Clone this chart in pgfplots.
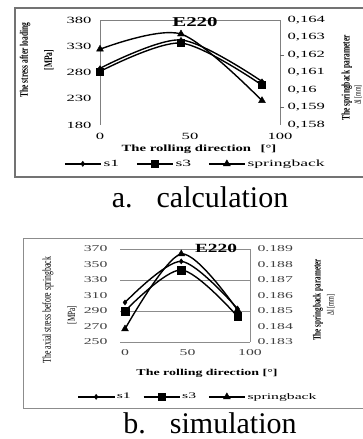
\documentclass[border=0pt]{standalone}
\usepackage{pgfplots}
\pgfplotsset{compat=1.18}
\usepackage{fontspec}
\setmainfont{Liberation Serif}
\newfontfamily\tkfont[FakeStretch=1.75]{Liberation Serif}
\newfontfamily\lgfont[FakeStretch=1.85]{Liberation Serif}
\newfontfamily\vlfont[FakeStretch=0.65]{Liberation Serif}
\newfontfamily\hlfont[FakeStretch=1.55]{Liberation Serif}

\pgfplotsset{
  s1style/.style={black, line width=1.4pt, smooth, mark=diamond*, mark size=2.6pt, mark options={solid, line width=0.4pt}},
  s3style/.style={black, line width=1.4pt, smooth, mark=square*, mark size=3.4pt, mark options={solid, line width=0.4pt}},
  spstyle/.style={black, line width=1.4pt, smooth, mark=triangle*, mark size=4pt, mark options={solid, line width=0.4pt}},
  mylegend/.style={
    legend image code/.code={\draw[mark repeat=2,mark phase=2,##1] plot coordinates {(0pt,0pt) (18pt,0pt) (36pt,0pt)};},
    legend style={draw=none, fill=none, legend columns=3, /tikz/every even column/.append style={column sep=15pt}, font=\lgfont\fontsize{9.5}{9.5}\selectfont, inner sep=0pt, legend cell align=left},
  },
  base/.style={scale only axis, anchor=south west, clip=false,
    /pgf/number format/assume math mode=true,
    tick style={draw=none},
    every tick label/.append style={font=\tkfont\fontsize{9.5}{10}\selectfont}},
}

\begin{document}
\begin{tikzpicture}[x=1pt,y=1pt]
\useasboundingbox (0,0) rectangle (362,439);
\fill[white] (0,0) rectangle (362,439);
% frames
\draw[black!55, line width=1.5pt] (15,431) rectangle (380,262);
\draw[black!45, line width=1pt] (23,200) rectangle (380,30);

% ---------- top chart (calculation) ----------
\begin{axis}[base, at={(100pt,314pt)}, width=180pt, height=105pt,
  xmin=0, xmax=100, ymin=180, ymax=380,
  xtick={0,50,100}, ytick={180,230,280,330,380},
  axis x line*=bottom, axis y line*=left,
  x axis line style={draw=none}, y axis line style={black!50},
  yticklabel style={xshift=-5pt}, xticklabel style={yshift=-5pt}]
  \draw[black!50] (0,380) -- (100,380);
  \addplot[s1style] coordinates {(0,288) (45,342) (90,263)};
  \addplot[s3style] coordinates {(0,282) (45,336) (90,256)};
\end{axis}
\begin{axis}[base, mylegend, at={(100pt,314pt)}, width=180pt, height=105pt,
  xmin=0, xmax=100, ymin=0.158, ymax=0.164,
  axis x line=none, axis y line*=right, y axis line style={black!50},
  ytick={0.158,0.159,0.160,0.161,0.162,0.163,0.164},
  yticklabel style={xshift=4pt, /pgf/number format/fixed, /pgf/number format/precision=3, /pgf/number format/use comma},
  extra y ticks={0.159,0.162}, extra y tick labels={},
  extra y tick style={tick style={draw=black!60, thin}, major tick length=4pt, tick align=outside},
  legend style={at={(0.53,-0.37)}, anchor=center}]
  \addlegendimage{s1style}\addlegendentry{s1}
  \addlegendimage{s3style}\addlegendentry{s3}
  \addplot[spstyle] coordinates {(0,0.16233) (45,0.1632) (90,0.15939)};
  \addlegendentry{springback}
\end{axis}
\node[font=\hlfont\bfseries\fontsize{13.5}{14}\selectfont] at (195,416.5) {E220};
\node[font=\hlfont\bfseries\fontsize{9.5}{10}\selectfont] at (199,290) {The rolling direction\quad[°]};
\node[rotate=90, font=\vlfont\bfseries\fontsize{11.5}{12}\selectfont] at (25,379) {The stress after loading};
\node[rotate=90, font=\vlfont\bfseries\fontsize{11.5}{12}\selectfont] at (49,379) {[MPa]};
\node[rotate=90, font=\vlfont\bfseries\fontsize{11.5}{12}\selectfont] at (347,361) {The springback parameter};
\node[rotate=90, font=\vlfont\fontsize{9}{9}\selectfont] at (358,344) {Δl [mm]};
\node[inner sep=0pt, font=\fontsize{30}{30}\selectfont] at (200,242) {a.\hspace{24pt}calculation};

% ---------- bottom chart (simulation) ----------
\begin{axis}[base, at={(120pt,97pt)}, width=130pt, height=93pt,
  xmin=-4, xmax=100, ymin=250, ymax=370,
  xtick={0,50,100}, ytick={250,270,...,370},
  axis x line*=bottom, axis y line*=left,
  axis line style={draw=none},
  extra y ticks={250,290,330,370}, extra y tick labels={},
  extra y tick style={grid=major, major grid style={black!45}},
  every tick label/.append style={text=black!75, font=\tkfont\fontsize{9}{9}\selectfont},
  yticklabel style={xshift=-9pt}, xticklabel style={yshift=-4pt}]
  \addplot[s1style] coordinates {(0,301) (45,354) (90,293)};
  \addplot[s3style, mark size=3.8pt] coordinates {(0,290) (45,343) (90,283)};
\end{axis}
\begin{axis}[base, mylegend, at={(120pt,97pt)}, width=130pt, height=93pt,
  xmin=-4, xmax=100, ymin=0.183, ymax=0.189,
  axis x line=none, axis y line*=right, y axis line style={black!45},
  ytick={0.183,0.184,0.185,0.186,0.187,0.188,0.189},
  yticklabel style={xshift=4pt, /pgf/number format/fixed, /pgf/number format/fixed zerofill, /pgf/number format/precision=3},
  every tick label/.append style={text=black!75, font=\tkfont\fontsize{9}{9}\selectfont},
  legend style={at={(0.6,-0.59)}, anchor=center, font=\lgfont\fontsize{8.5}{9}\selectfont, /tikz/every even column/.append style={column sep=10pt}}]
  \addlegendimage{s1style}\addlegendentry{s1}
  \addlegendimage{s3style}\addlegendentry{s3}
  \addplot[spstyle] coordinates {(0,0.18384) (45,0.18868) (90,0.18506)};
  \addlegendentry{springback}
\end{axis}
\node[font=\hlfont\bfseries\fontsize{12.5}{13}\selectfont] at (216,191) {E220};
\node[font=\hlfont\bfseries\fontsize{9}{9}\selectfont] at (207,66) {The rolling direction [°]};
\node[rotate=90, font=\vlfont\fontsize{12}{12}\selectfont] at (48,129) {The axial stress before springback};
\node[rotate=90, font=\vlfont\fontsize{11}{11}\selectfont] at (72,124) {[MPa]};
\node[rotate=90, font=\vlfont\bfseries\fontsize{11}{11}\selectfont] at (318,139) {The springback parameter};
\node[rotate=90, font=\vlfont\fontsize{9.5}{9.5}\selectfont] at (331,134) {Δl [mm]};
\node[inner sep=0pt, font=\fontsize{30}{30}\selectfont] at (210,16) {b.\hspace{24pt}simulation};
\end{tikzpicture}
\end{document}
